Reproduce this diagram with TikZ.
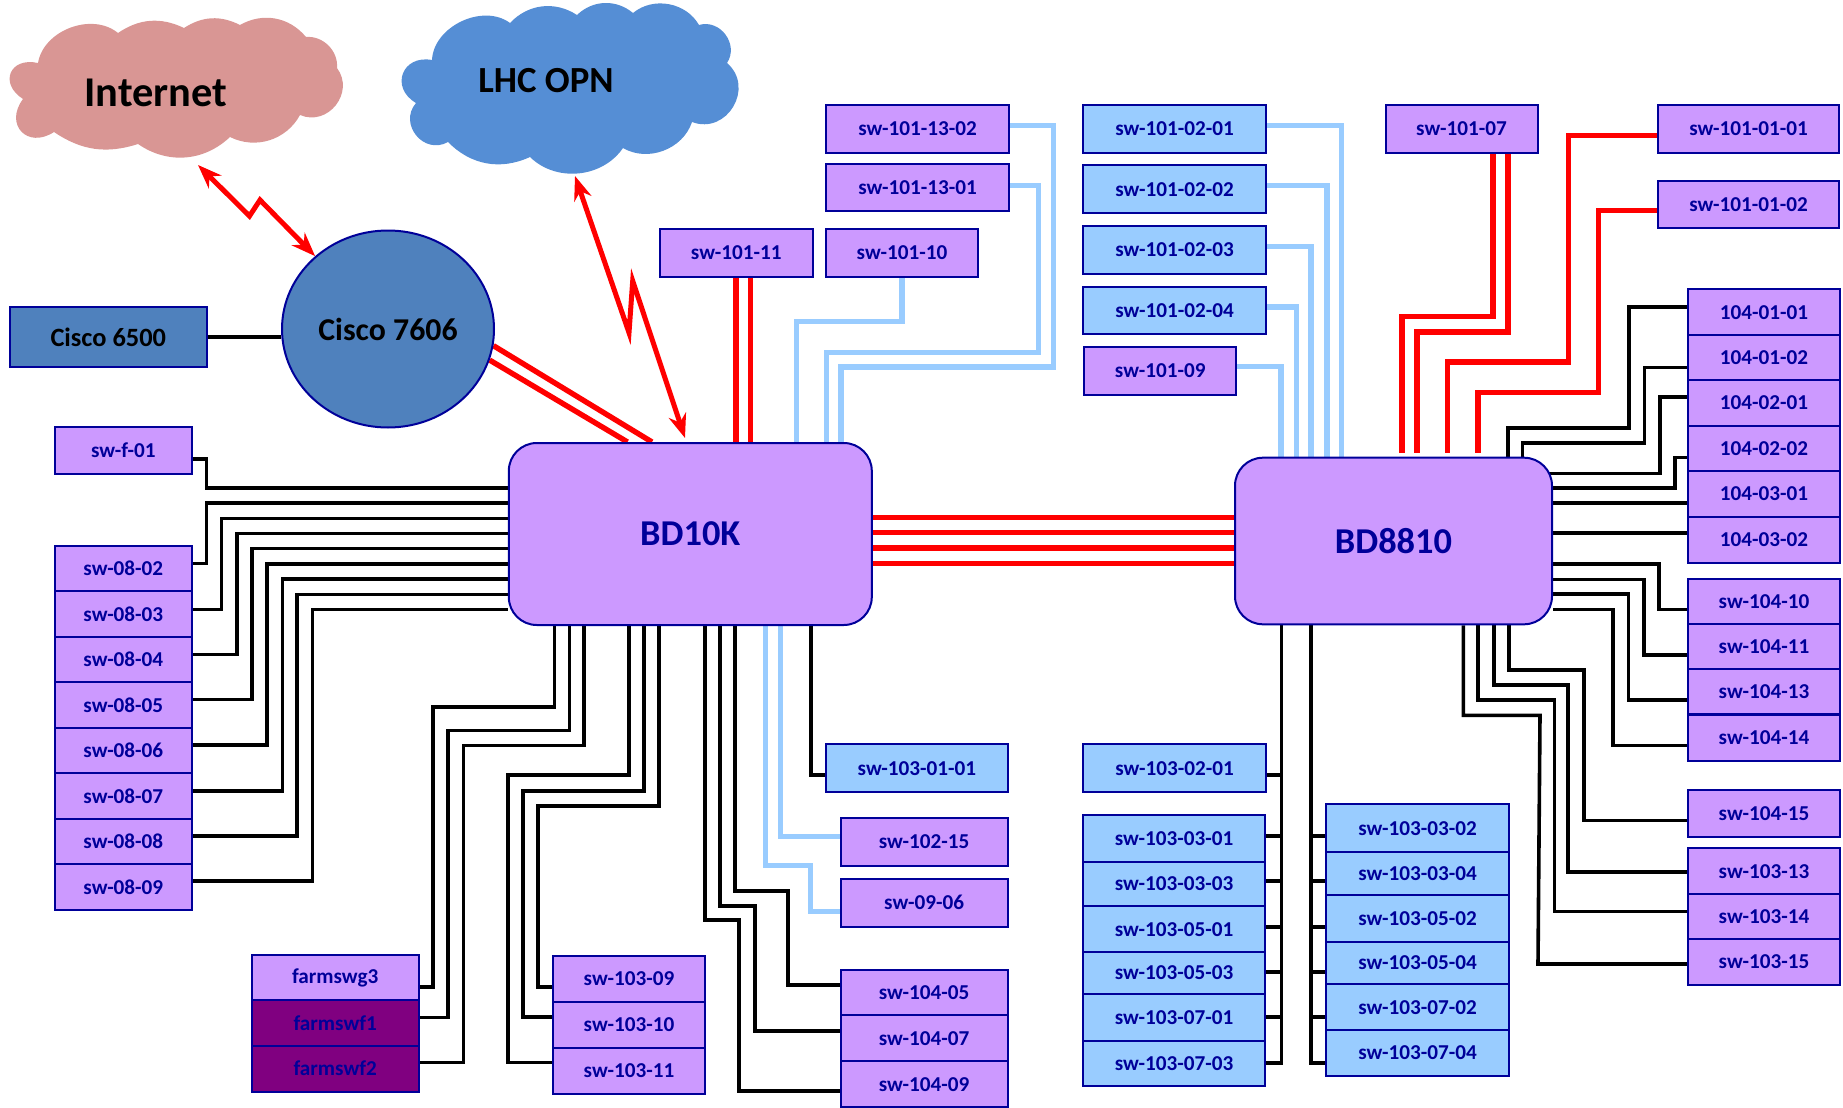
\documentclass[tikz,border=0pt]{standalone}
\usepackage{fontspec}
\setmainfont{Carlito}
\usetikzlibrary{arrows.meta, backgrounds, shapes.geometric}
\definecolor{navyline}{HTML}{000099}
\definecolor{swpurple}{HTML}{CC99FF}
\definecolor{swblue}{HTML}{99CCFF}
\definecolor{swdark}{HTML}{800080}
\definecolor{ciscoblue}{HTML}{4F81BD}
\definecolor{cloudpink}{HTML}{D99694}
\definecolor{cloudblue}{HTML}{558ED5}
\tikzset{
  swnode/.style={draw=navyline, line width=1pt, inner sep=0pt, text=navyline,
    font=\fontsize{10.6}{12}\selectfont\bfseries},
  purplesw/.style={swnode, fill=swpurple},
  bluesw/.style={swnode, fill=swblue},
  darksw/.style={swnode, fill=swdark},
  core/.style={swnode, fill=swpurple, rounded corners=14pt,
    font=\fontsize{18.2}{20}\selectfont\bfseries},
  blackl/.style={line width=1.8pt, black, line join=miter},
  redl/.style={line width=2.7pt, red},
  lightl/.style={line width=2.7pt, swblue},
  zap/.style={line width=2.5pt, red, {Stealth[length=12pt,width=9pt]}-{Stealth[length=12pt,width=9pt]}, line join=miter}
}
\begin{document}
\begin{tikzpicture}[x=0.5pt, y=-0.5pt]
\useasboundingbox (0,0) rectangle (1843,1108);

% clouds
\fill[cloudpink] (38,63) to[bend left=60] (118,33) to[bend left=30] (184,28) to[bend left=30] (240,25)
  to[bend left=40] (306,37) to[bend left=50] (337,68) to[bend left=75,looseness=1.3] (300,115)
  to[bend left=44] (230,137) to[bend left=39] (138,144) to[bend left=26] (54,132)
  to[bend left=80,looseness=1.8] (23,99) to[bend left=80,looseness=1.9] cycle;
\fill[cloudblue] (432,60) to[bend left=62] (510,23) to[bend left=40] (577,15) to[bend left=42] (633,13)
  to[bend left=50] (699,25) to[bend left=70,looseness=1.2] (727,63) to[bend left=80,looseness=1.4] (692,122)
  to[bend left=51] (623,148) to[bend left=50] (530,157) to[bend left=35] (448,142)
  to[bend left=80,looseness=1.4] (416,103) to[bend left=80,looseness=1.7] cycle;
\node[font=\fontsize{21.2}{23}\selectfont\bfseries] (internet) at (156,93) {Internet};
\node[font=\fontsize{18.4}{20}\selectfont\bfseries] (lhcopn) at (546,81) {LHC OPN};
\coordinate (internet-foot) at (198,165);
\coordinate (lhcopn-foot) at (575,176);
\coordinate (bd10k-top) at (685,438);

% cisco
\node[draw=navyline, line width=1pt, fill=ciscoblue, ellipse, inner sep=0pt, minimum width=106pt, minimum height=98.5pt,
  font=\fontsize{15.9}{18}\selectfont\bfseries] (c7606) at (388,329) {Cisco 7606};
\node[draw=navyline, line width=1pt, fill=ciscoblue, inner sep=0pt, minimum width=98.7pt, minimum height=30pt,
  font=\fontsize{13.2}{15}\selectfont\bfseries] (c6500) at (108.3,337) {Cisco 6500};

% the two core boxes
\node[core, minimum width=181.5pt, minimum height=91pt] (bd10k) at (690.3,534) {BD10K};
\node[core, minimum width=158.5pt, minimum height=83.3pt] (bd8810) at (1393.5,541) {BD8810};

% left side
\node[purplesw, minimum width=68.7pt, minimum height=23.7pt] (sw-f-01) at (123.3,450.5) {sw-f-01};
\foreach \nm/\cy in {02/568.5,03/614,04/659.5,05/705,06/750.5,07/796,08/841.5,09/887}
  \node[purplesw, minimum width=68.7pt, minimum height=22.8pt] (sw-08-\nm) at (123.3,\cy) {sw-08-\nm};
\node[purplesw, minimum width=83.4pt, minimum height=23pt] (farmswg3) at (335.2,978) {farmswg3};
\node[darksw, minimum width=83.4pt, minimum height=23pt] (farmswf1) at (335.2,1023.3) {farmswf1};
\node[darksw, minimum width=83.4pt, minimum height=23pt] (farmswf2) at (335.2,1068.5) {farmswf2};

% below bd10k
\foreach \nm/\cy in {09/978.7,10/1024.8,11/1070.9}
  \node[purplesw, minimum width=76pt, minimum height=23pt] (sw-103-\nm) at (629,\cy) {sw-103-\nm};
\foreach \nm/\cy in {05/992.5,07/1038.2,09/1084.3}
  \node[purplesw, minimum width=83.4pt, minimum height=23pt] (sw-104-\nm) at (924.1,\cy) {sw-104-\nm};
\node[bluesw, minimum width=91.2pt, minimum height=24pt] (sw-103-01-01) at (916.9,768.2) {sw-103-01-01};
\node[purplesw, minimum width=83.4pt, minimum height=24pt] (sw-102-15) at (924.1,842) {sw-102-15};
\node[purplesw, minimum width=83.4pt, minimum height=24pt] (sw-09-06) at (924.1,902.5) {sw-09-06};

% top row
\node[purplesw, minimum width=76.5pt, minimum height=24pt] (sw-101-11) at (736.2,253) {sw-101-11};
\node[purplesw, minimum width=76pt, minimum height=24pt] (sw-101-10) at (902,253) {sw-101-10};
\node[purplesw, minimum width=91.4pt, minimum height=23.8pt] (sw-101-13-02) at (917.6,128.8) {sw-101-13-02};
\node[purplesw, minimum width=91.4pt, minimum height=23.7pt] (sw-101-13-01) at (917.6,187.6) {sw-101-13-01};
\foreach \nm/\cy in {01/128.8,02/189.3,03/250,04/310.5}
  \node[bluesw, minimum width=91.8pt, minimum height=23.9pt] (sw-101-02-\nm) at (1174.6,\cy) {sw-101-02-\nm};
\node[purplesw, minimum width=76.2pt, minimum height=23.8pt] (sw-101-09) at (1160.2,370.8) {sw-101-09};
\node[purplesw, minimum width=76pt, minimum height=23.8pt] (sw-101-07) at (1461.5,128.8) {sw-101-07};
\node[purplesw, minimum width=90.8pt, minimum height=23.8pt] (sw-101-01-01) at (1748.5,128.8) {sw-101-01-01};
\node[purplesw, minimum width=90.8pt, minimum height=23.8pt] (sw-101-01-02) at (1748.5,204.5) {sw-101-01-02};

% right side
\foreach \nm/\cy in {01-01/312.2,01-02/357.7,02-01/403,02-02/448.4,03-01/493.9,03-02/540}
  \node[purplesw, minimum width=76pt, minimum height=22.8pt] (104-\nm) at (1764,\cy) {104-\nm};
\foreach \nm/\cy in {10/601.5,11/646.5,13/691.7,14/738}
  \node[purplesw, minimum width=76pt, minimum height=22.7pt] (sw-104-\nm) at (1764,\cy) {sw-104-\nm};
\node[purplesw, minimum width=76pt, minimum height=23.5pt] (sw-104-15) at (1764,813.5) {sw-104-15};
\foreach \nm/\cy in {13/871.2,14/916.7,15/962}
  \node[purplesw, minimum width=76pt, minimum height=23pt] (sw-103-\nm) at (1764,\cy) {sw-103-\nm};

% blue stacks below bd8810
\node[bluesw, minimum width=91.4pt, minimum height=24pt] (sw-103-02-01) at (1174.6,768.2) {sw-103-02-01};
\foreach \nm/\cy/\hh in {03-01/838.5/23.5,03-03/884/22,05-01/929.2/23.2,05-03/973/21.2,07-01/1017.4/23.7,07-03/1063.4/22.9}
  \node[bluesw, minimum width=91.1pt, minimum height=\hh pt] (sw-103-\nm) at (1174.1,\cy) {sw-103-\nm};
\foreach \nm/\cy/\hh in {03-02/828.2/23.9,03-04/873.5/21.5,05-02/918.7/23.7,05-04/963/21.2,07-02/1007.5/23.3,07-04/1052.7/22.9}
  \node[bluesw, minimum width=91.4pt, minimum height=\hh pt] (sw-103-\nm) at (1417.6,\cy) {sw-103-\nm};

\begin{pgfonlayer}{background}
% links left
\draw[blackl] (c6500.east) -- (c7606.west |- c6500.east);
\draw[blackl] (sw-f-01.east |- 0,458.7) -| (206.4,488.2) -- (bd10k.west |- 0,488.2);
\draw[blackl] (sw-08-02.east |- 0,563.5) -| (206.4,502.7) -- (bd10k.west |- 0,502.7);
\draw[blackl] (sw-08-03.east |- 0,609.3) -| (221.4,518.6) -- (bd10k.west |- 0,518.6);
\draw[blackl] (sw-08-04.east |- 0,654.6) -| (237,533.6) -- (bd10k.west |- 0,533.6);
\draw[blackl] (sw-08-05.east |- 0,699.5) -| (252,548.5) -- (bd10k.west |- 0,548.5);
\draw[blackl] (sw-08-06.east |- 0,744.8) -| (267,563.9) -- (bd10k.west |- 0,563.9);
\draw[blackl] (sw-08-07.east |- 0,791) -| (282.5,578.9) -- (bd10k.west |- 0,578.9);
\draw[blackl] (sw-08-08.east |- 0,836) -| (297,594.3) -- (bd10k.west |- 0,594.3);
\draw[blackl] (sw-08-09.east |- 0,880.8) -| (312.5,609.3) -- (bd10k.west |- 0,609.3);

% links below bd10k
\draw[blackl] (farmswg3.east |- 0,986.9) -| (432.9,706.7) -| (554.3,0 |- bd10k.south);
\draw[blackl] (farmswf1.east |- 0,1017.3) -| (448.2,730.3) -| (569.3,0 |- bd10k.south);
\draw[blackl] (farmswf2.east |- 0,1062.6) -| (463.6,745.3) -| (584,0 |- bd10k.south);
\draw[blackl] (sw-103-11.west |- 0,1062.3) -| (507.9,775) -| (628.9,0 |- bd10k.south);
\draw[blackl] (sw-103-10.west |- 0,1017) -| (522.9,790.7) -| (643.9,0 |- bd10k.south);
\draw[blackl] (sw-103-09.west |- 0,987) -| (537.9,806) -| (658.9,0 |- bd10k.south);
\draw[blackl] (sw-104-05.west |- 0,985) -| (788.2,891) -| (735,0 |- bd10k.south);
\draw[blackl] (sw-104-07.west |- 0,1030.7) -| (755,905.7) -| (720,0 |- bd10k.south);
\draw[blackl] (sw-104-09.west |- 0,1091) -| (739,920) -| (705,0 |- bd10k.south);
\draw[blackl] (sw-103-01-01.west |- 0,775) -| (811,0 |- bd10k.south);
\draw[lightl] (sw-102-15.west |- 0,836.3) -| (780.7,0 |- bd10k.south);
\draw[lightl] (sw-09-06.west |- 0,911.7) -| (810.7,865.7) -| (765.4,0 |- bd10k.south);

% links above bd10k
\draw[redl] (c7606.-9) -- (652,0 |- bd10k.north);
\draw[redl] (c7606.-17) -- (627.5,0 |- bd10k.north);
\draw[redl] (736,0 |- sw-101-11.south) -- (736,0 |- bd10k.north);
\draw[redl] (750.5,0 |- sw-101-11.south) -- (750.5,0 |- bd10k.north);
\draw[lightl] (sw-101-10.south) |- (796.4,321.7) -- (796.4,0 |- bd10k.north);
\draw[lightl] (sw-101-13-01.east |- 0,185.7) -| (1038.2,352.3) -| (826.2,0 |- bd10k.north);
\draw[lightl] (sw-101-13-02.east |- 0,125.7) -| (1053.5,367) -| (841,0 |- bd10k.north);

% core to core
\foreach \yy in {517.7,532.7,548,563.7}
  \draw[redl] (bd10k.east |- 0,\yy) -- (bd8810.west |- 0,\yy);

% links above bd8810
\draw[lightl] (sw-101-02-01.east |- 0,125.7) -| (1341.3,0 |- bd8810.north);
\draw[lightl] (sw-101-02-02.east |- 0,185.7) -| (1326.8,0 |- bd8810.north);
\draw[lightl] (sw-101-02-03.east |- 0,246.3) -| (1311,0 |- bd8810.north);
\draw[lightl] (sw-101-02-04.east |- 0,307) -| (1296.5,0 |- bd8810.north);
\draw[lightl] (sw-101-09.east |- 0,366.7) -| (1280.9,0 |- bd8810.north);
\draw[redl] (1493,0 |- sw-101-07.south) |- (1402,316.7) -- (1402,452.7);
\draw[redl] (1507.8,0 |- sw-101-07.south) |- (1416.9,332) -- (1416.9,452.7);
\draw[redl] (sw-101-01-01.west |- 0,135.7) -| (1568.7,362) -| (1447.7,452.7);
\draw[redl] (sw-101-01-02.west |- 0,210.7) -| (1598.4,392.7) -| (1477.8,452.7);

% links right of bd8810
\draw[blackl] (104-01-01.west |- 0,306.7) -| (1629.2,428) -| (1508.2,0 |- bd8810.north);
\draw[blackl] (104-01-02.west |- 0,367.3) -| (1644.4,442.7) -| (1522.6,0 |- bd8810.north);
\draw[blackl] (104-02-01.west |- 0,397) -| (1659.7,473.3) -- (1540,473.3);
\draw[blackl] (104-02-02.west |- 0,457.3) -| (1675,487.7) -- (bd8810.east |- 0,487.7);
\draw[blackl] (104-03-01.west |- 0,502.7) -- (bd8810.east |- 0,502.7);
\draw[blackl] (104-03-02.west |- 0,532.7) -- (bd8810.east |- 0,532.7);
\draw[blackl] (sw-104-10.west |- 0,609.3) -| (1659,564) -- (bd8810.east |- 0,564);
\draw[blackl] (sw-104-11.west |- 0,654.7) -| (1643.7,579.3) -- (bd8810.east |- 0,579.3);
\draw[blackl] (sw-104-13.west |- 0,700) -| (1628.3,594) -- (bd8810.east |- 0,594);
\draw[blackl] (sw-104-14.west |- 0,745.3) -| (1613,609.3) -- (bd8810.east |- 0,609.3);
\draw[blackl] (sw-104-15.west |- 0,820.3) -| (1584.2,669.7) -| (1508.7,0 |- bd8810.south);
\draw[blackl] (sw-103-13.west |- 0,872) -| (1567.7,684.7) -| (1493.7,0 |- bd8810.south);
\draw[blackl] (sw-103-14.west |- 0,911.3) -| (1554.4,699.7) -| (1477.8,0 |- bd8810.south);
\draw[blackl] (sw-103-15.west |- 0,964) -- (1538,964) -- (1540,715.3) -| (1463.4,0 |- bd8810.south);

% buses below bd8810
\draw[blackl] (1281.5,0 |- bd8810.south) -- (1281.5,1062.7) -- (sw-103-07-03.east |- 0,1062.7);
\draw[blackl] (sw-103-02-01.east |- 0,775) -- (1281.5,775);
\foreach \nm/\yy in {03-01/835.7,03-03/881,05-01/927,05-03/971.7,07-01/1017}
  \draw[blackl] (sw-103-\nm.east |- 0,\yy) -- (1281.5,\yy);
\draw[blackl] (1310.8,0 |- bd8810.south) -- (1310.8,1062.7) -- (sw-103-07-04.west |- 0,1062.7);
\foreach \nm/\yy in {03-02/835.7,03-04/881,05-02/927,05-04/971.7,07-02/1017}
  \draw[blackl] (sw-103-\nm.west |- 0,\yy) -- (1310.8,\yy);
\end{pgfonlayer}

% wan links
\draw[zap] (internet-foot) -- (249.5,216) -- (260,200) -- (c7606.135);
\draw[zap] (lhcopn-foot) -- (629,332.7) -- (632.7,281) -- (bd10k-top);
\end{tikzpicture}
\end{document}
